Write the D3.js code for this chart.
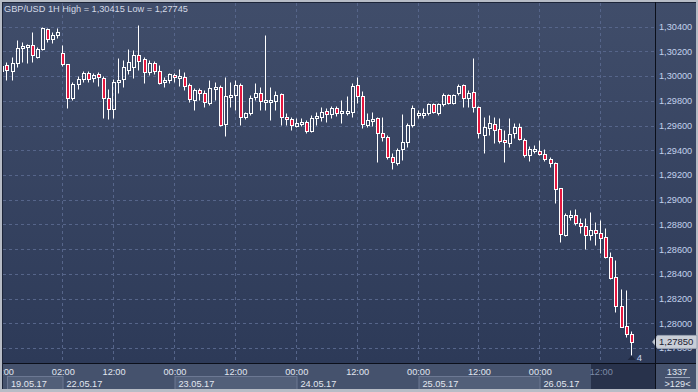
<!DOCTYPE html>
<html><head><meta charset="utf-8">
<script src="https://cdn.jsdelivr.net/npm/d3@7/dist/d3.min.js"></script>
<style>html,body{margin:0;padding:0;background:#b7bcc6;}svg{display:block;}</style>
</head><body><svg id="c" width="698" height="392"></svg>
<script>
// ---- data ----
const opens = [1.30044,1.30090,1.30044,1.30104,1.30225,1.30238,1.30252,1.30157,1.30217,1.30379,1.30298,1.30330,
1.30185,1.30096,1.29821,1.29936,1.29974,1.30028,1.29983,1.30017,1.29987,1.29821,1.29732,1.29958,1.29974,1.30050,1.30076,1.30171,1.30136,1.30036,1.30109,1.30042,1.29950,1.29969,
1.30009,1.29991,1.29991,1.29928,1.29807,1.29888,1.29861,1.29785,1.29894,1.29910,1.29613,1.29845,1.29847,1.29928,1.29667,1.29699,1.29829,1.29861,1.29799,1.29799,1.29799,1.29856,1.29672,1.29651,
1.29597,1.29623,1.29631,1.29556,1.29659,1.29672,1.29718,1.29691,1.29740,1.29699,1.29710,1.29712,1.29928,1.29842,1.29605,1.29651,1.29659,1.29542,1.29505,1.29343,1.29300,1.29408,1.29465,1.29605,
1.29696,1.29696,1.29699,1.29772,1.29699,1.29772,1.29847,1.29780,1.29861,1.29928,1.29821,1.29874,1.29748,1.29524,1.29581,1.29610,1.29570,1.29483,1.29457,1.29538,1.29586,1.29483,
1.29362,1.29405,1.29394,1.29368,1.29327,1.29300,1.29093,1.28715,1.28874,1.28877,1.28810,1.28788,1.28715,1.28755,1.28729,1.28696,1.28534,1.28373,1.28141,1.27979,1.27912];
const highs = [1.30104,1.30117,1.30157,1.30292,1.30279,1.30260,1.30360,1.30238,1.30395,1.30387,1.30360,1.30387,
1.30252,1.30096,1.29955,1.30001,1.30044,1.30044,1.30028,1.30036,1.30001,1.29894,1.29974,1.30144,1.30131,1.30217,1.30212,1.30415,1.30157,1.30131,1.30125,1.30090,1.29991,1.30023,
1.30023,1.30055,1.30036,1.29942,1.29902,1.29902,1.29888,1.29969,1.29955,1.29928,1.29991,1.29955,1.29969,1.29942,1.29712,1.29847,1.29942,1.29910,1.30333,1.29910,1.29882,1.29866,1.29699,1.29672,
1.29659,1.29659,1.29645,1.29686,1.29712,1.29748,1.29740,1.29759,1.29759,1.29807,1.29839,1.29942,1.29996,1.29882,1.29699,1.29712,1.29672,1.29672,1.29524,1.29376,1.29416,1.29691,1.29619,1.29767,
1.29726,1.29740,1.29785,1.29780,1.29780,1.29861,1.29856,1.29856,1.29936,1.29936,1.29888,1.30144,1.29759,1.29672,1.29686,1.29672,1.29659,1.29564,1.29659,1.29623,1.29623,1.29497,
1.29435,1.29443,1.29483,1.29408,1.29343,1.29308,1.29098,1.28890,1.28917,1.28923,1.28855,1.28850,1.28903,1.28823,1.28836,1.28769,1.28580,1.28513,1.28276,1.28270,1.27941];
const lows = [1.29942,1.29969,1.29969,1.30076,1.30117,1.30109,1.30117,1.30144,1.30212,1.30279,1.30271,1.30306,
1.30085,1.29740,1.29807,1.29894,1.29955,1.29955,1.29955,1.29920,1.29659,1.29651,1.29659,1.29861,1.29915,1.30017,1.29983,1.30050,1.29942,1.30009,1.30017,1.29936,1.29910,1.29942,
1.29955,1.29920,1.29888,1.29793,1.29726,1.29807,1.29753,1.29767,1.29807,1.29597,1.29518,1.29753,1.29726,1.29605,1.29651,1.29686,1.29807,1.29726,1.29726,1.29645,1.29726,1.29605,1.29605,1.29564,
1.29586,1.29597,1.29542,1.29548,1.29605,1.29640,1.29631,1.29659,1.29678,1.29623,1.29686,1.29672,1.29780,1.29578,1.29586,1.29597,1.29308,1.29478,1.29330,1.29249,1.29281,1.29322,1.29429,1.29591,
1.29659,1.29659,1.29686,1.29699,1.29686,1.29759,1.29775,1.29775,1.29847,1.29753,1.29753,1.29712,1.29497,1.29381,1.29524,1.29462,1.29457,1.29308,1.29429,1.29497,1.29483,1.29348,
1.29316,1.29376,1.29362,1.29316,1.29267,1.28976,1.28661,1.28707,1.28836,1.28796,1.28729,1.28599,1.28674,1.28634,1.28572,1.28529,1.28359,1.28094,1.27968,1.27892,1.27745];
const closes = [1.30085,1.30050,1.30104,1.30225,1.30244,1.30252,1.30171,1.30217,1.30387,1.30298,1.30333,1.30360,
1.30096,1.29821,1.29936,1.29974,1.30023,1.29974,1.30009,1.29991,1.29821,1.29732,1.29955,1.29969,1.30076,1.30114,1.30171,1.30125,1.30036,1.30109,1.30042,1.29942,1.29969,1.30017,
1.29996,1.30001,1.29920,1.29813,1.29888,1.29861,1.29793,1.29902,1.29910,1.29605,1.29839,1.29847,1.29928,1.29672,1.29699,1.29821,1.29861,1.29799,1.29807,1.29807,1.29847,1.29667,1.29651,1.29605,
1.29619,1.29629,1.29556,1.29659,1.29678,1.29712,1.29691,1.29740,1.29699,1.29720,1.29718,1.29920,1.29842,1.29613,1.29645,1.29653,1.29542,1.29505,1.29343,1.29308,1.29403,1.29465,1.29605,1.29740,
1.29702,1.29702,1.29772,1.29712,1.29772,1.29847,1.29780,1.29847,1.29920,1.29821,1.29866,1.29748,1.29538,1.29591,1.29621,1.29564,1.29478,1.29470,1.29532,1.29586,1.29489,1.29362,
1.29408,1.29408,1.29368,1.29327,1.29295,1.29085,1.28723,1.28877,1.28877,1.28810,1.28788,1.28715,1.28755,1.28729,1.28688,1.28534,1.28369,1.28141,1.27973,1.27912,1.27850];
const priceTicks = [1.278,1.280,1.282,1.284,1.286,1.288,1.290,1.292,1.294,1.296,1.298,1.300,1.302,1.304];
const timeTickIdx = [0,12,22,34,46,58,70,82,94,106,118];
const timeTickLabels = ["10:00","02:00","12:00","00:00","12:00","00:00","12:00","00:00","12:00","00:00","12:00"];
const dayStartIdx = [0,12,34,58,82,106];
const dayEndIdx = [12,34,58,82,106,125];
const dayLabels = ["19.05.17","22.05.17","23.05.17","24.05.17","25.05.17","26.05.17"];
const title = "GBP/USD 1H High = 1,30415 Low = 1,27745";
const lastPrice = 1.27850;
const rightInfo = ["1337", ">129<"];
const markerText = "4";

// ---- layout ----
const svg = d3.select("#c");
const L = 3, R = 655, T = 3, B = 363;
const font = "'Liberation Sans', Arial, sans-serif";
const n = opens.length;
const x = d3.scaleLinear().domain([0, n - 1]).range([2.4, 631.7]);
const y = d3.scaleLinear().domain([1.278, 1.304]).range([348.1, 26.7]);
const fmt = v => d3.format(".5f")(v).replace(".", ",");

const defs = svg.append("defs");
const g1 = defs.append("linearGradient").attr("id","bg").attr("x1",0).attr("y1",0).attr("x2",0).attr("y2",1);
g1.append("stop").attr("offset","0%").attr("stop-color","#404d6a");
g1.append("stop").attr("offset","100%").attr("stop-color","#2d3a58");
defs.append("clipPath").attr("id","pc").append("rect").attr("x",L).attr("y",T).attr("width",R-L).attr("height",B-T);
defs.append("clipPath").attr("id","ac").append("rect").attr("x",L).attr("y",B).attr("width",R-L).attr("height",389-B);

// frame
svg.append("rect").attr("width",698).attr("height",392).attr("fill","#b7bcc6");
svg.append("rect").attr("x",2).attr("y",2).attr("width",694).attr("height",387).attr("fill","#1c2438");
// plot + right panel background
svg.append("rect").attr("x",L).attr("y",T).attr("width",696-L).attr("height",B-T).attr("fill","url(#bg)");

// grid
const grid = svg.append("g").attr("clip-path","url(#pc)").attr("stroke","#56658a").attr("stroke-width",1).attr("stroke-dasharray","3,3");
grid.selectAll("line.h").data(priceTicks).join("line")
  .attr("x1",L).attr("x2",R).attr("y1",d=>Math.round(y(d))+0.5).attr("y2",d=>Math.round(y(d))+0.5);
grid.selectAll("line.v").data(timeTickIdx.slice(1)).join("line").attr("class","v")
  .attr("y1",T).attr("y2",B).attr("x1",d=>Math.round(x(d))-0.5).attr("x2",d=>Math.round(x(d))-0.5);

// candles
const idx = d3.range(n);
const cg = svg.append("g").attr("clip-path","url(#pc)");
const px = v => Math.round(y(v)) + 0.5;
idx.forEach(i => {
  const c = Math.round(x(i));
  const o = opens[i], h = highs[i], l = lows[i], cl = closes[i];
  let top = px(Math.max(o, cl)), bot = px(Math.min(o, cl));
  if (bot - top < 2) bot = top + 2;
  const bear = cl < o;
  cg.append("line").attr("x1",c-0.5).attr("x2",c-0.5).attr("y1",px(h)).attr("y2",top).attr("stroke","#ffffff");
  cg.append("line").attr("x1",c-0.5).attr("x2",c-0.5).attr("y1",bot).attr("y2",px(l)).attr("stroke","#ffffff");
  cg.append("rect").attr("x",c-1.5).attr("y",top).attr("width",3).attr("height",bot-top)
    .attr("fill", bear ? "#e5173f" : "none").attr("stroke","#ffffff").attr("stroke-width",1);
});

// marker "4"
svg.append("path").attr("d",`M${x(n-1)-4},${360} L${x(n-1)},${355.5} L${x(n-1)+4},${360} Z`).attr("fill","#1f2840");
svg.append("text").attr("x",x(n-1)+5).attr("y",361).attr("font-family",font).attr("font-size","9.5px").attr("fill","#c6d4ee").text(markerText);

// title
svg.append("text").attr("x",4).attr("y",12).attr("font-family",font).attr("font-size","9.2px").attr("fill","#d3d9e6").text(title);

// right axis labels
svg.selectAll("text.yl").data(priceTicks).join("text").attr("class","yl")
  .attr("x",659).attr("y",d=>y(d)).attr("dy","0.36em").attr("font-family",font).attr("font-size","9.2px")
  .attr("fill","#c2d1ec").text(fmt);

// last price tag
const ly = y(lastPrice);
svg.append("path").attr("d",`M652.5,${ly} L657.5,${ly-6.5} L697,${ly-6.5} L697,${ly+6.5} L657.5,${ly+6.5} Z`)
  .attr("fill","#c9ced7").attr("stroke","#9aa3b2");
svg.append("text").attr("x",659).attr("y",ly).attr("dy","0.36em").attr("font-family",font).attr("font-size","9.5px")
  .attr("fill","#1a2132").text(fmt(lastPrice));

// axis area
svg.append("rect").attr("x",L).attr("y",B).attr("width",696-L).attr("height",389-B).attr("fill","#45526d");
const ag = svg.append("g").attr("clip-path","url(#ac)");
ag.append("rect").attr("x",591).attr("y",B+1).attr("width",R-591).attr("height",389-B-1).attr("fill","#28324b");
dayLabels.forEach((t,k) => {
  const x0 = Math.max(7, Math.round(x(dayStartIdx[k])) - 0.5);
  const x1 = Math.round(x(dayEndIdx[k] < n ? dayEndIdx[k] : n)) - 0.5;
  if (k % 2 === 0 && k < 5) {
    ag.append("rect").attr("x",x0+0.5).attr("y",376.5).attr("width",x1-x0).attr("height",13)
      .attr("fill","#525f79").attr("stroke","#6c7893");
  }
  ag.append("text").attr("x",x0+4).attr("y",386.5).attr("font-family",font).attr("font-size","9.2px")
    .attr("fill","#e2e7f0").text(t);
});
ag.selectAll("text.tl").data(timeTickIdx).join("text").attr("class","tl")
  .attr("x",d=>x(d)).attr("y",375).attr("text-anchor","middle").attr("font-family",font).attr("font-size","9.2px")
  .attr("fill",(d)=> x(d) > 591 ? "#7d8aa6" : "#e2e7f0").text((d,k)=>timeTickLabels[k]);

// separator lines
svg.append("line").attr("x1",2).attr("x2",696).attr("y1",B+0.5).attr("y2",B+0.5).attr("stroke","#0b0f1a");
svg.append("line").attr("x1",R+0.5).attr("x2",R+0.5).attr("y1",2).attr("y2",389).attr("stroke","#0b0f1a");
svg.append("line").attr("x1",2.5).attr("x2",2.5).attr("y1",2).attr("y2",389).attr("stroke","#1c2438");

// right bottom info
svg.append("text").attr("x",677).attr("y",374.5).attr("text-anchor","middle").attr("font-family",font).attr("font-size","9.2px").attr("fill","#e2e7f0").text(rightInfo[0]);
svg.append("line").attr("x1",665).attr("x2",690).attr("y1",377.5).attr("y2",377.5).attr("stroke","#9aa5bb");
svg.append("text").attr("x",677.5).attr("y",387).attr("text-anchor","middle").attr("font-family",font).attr("font-size","9.2px").attr("fill","#e2e7f0").text(rightInfo[1]);
</script></body></html>
